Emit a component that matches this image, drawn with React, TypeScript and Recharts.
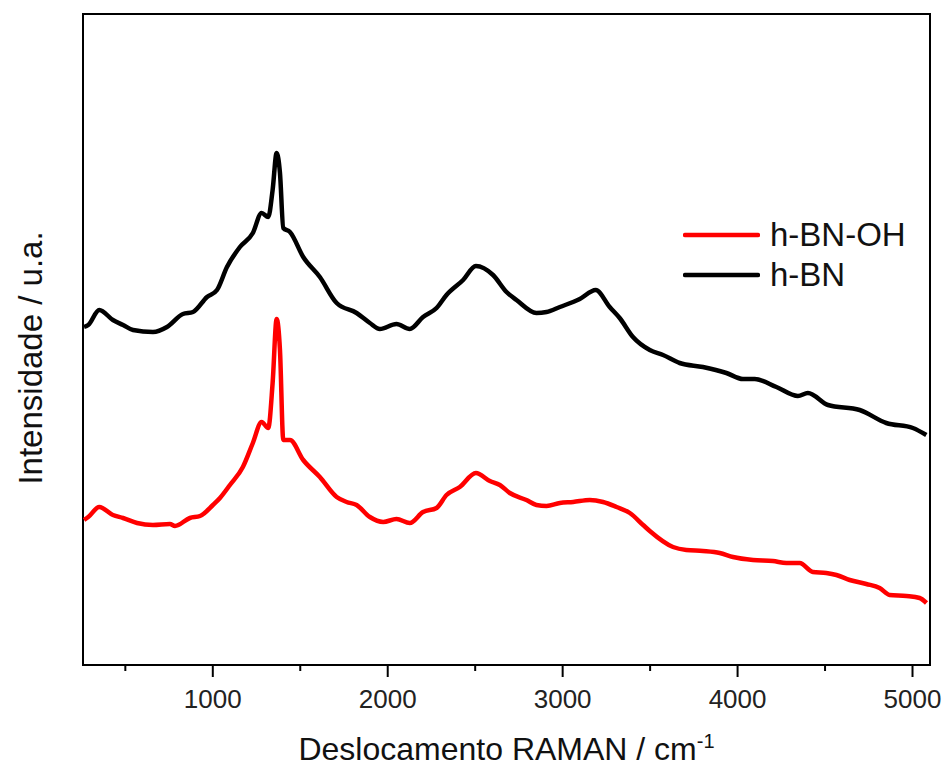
import React from "react";
import {
  LineChart,
  Line,
  XAxis,
  YAxis,
  ReferenceArea,
  Legend,
  Label,
} from "recharts";

// Raman shift (cm^-1) and intensity (a.u.)
const hbnShift = [264, 288, 351, 429, 487, 544, 658, 738, 829, 887, 967, 1024, 1081, 1155, 1229, 1279, 1317, 1342, 1365, 1384, 1403, 1441, 1517, 1612, 1708, 1822, 1898, 1955, 2050, 2126, 2202, 2279, 2336, 2431, 2504, 2602, 2679, 2736, 2850, 2908, 2984, 3098, 3189, 3269, 3326, 3402, 3498, 3574, 3669, 3802, 3936, 4031, 4098, 4222, 4345, 4402, 4517, 4698, 4850, 5002, 5079];
const hbnIntensity = [338, 340, 355, 345, 340, 335, 333, 338, 351, 353, 368, 375, 398, 418, 432, 452, 448, 475, 512, 492, 437, 433, 408, 388, 362, 352, 342, 336, 341, 336, 348, 357, 370, 385, 399, 390, 373, 365, 352, 353, 358, 366, 375, 358, 347, 328, 315, 310, 302, 298, 292, 286, 286, 278, 269, 272, 260, 255, 242, 237, 230];

const hbnOhShift = [264, 288, 351, 429, 487, 567, 658, 755, 784, 869, 927, 1001, 1041, 1098, 1172, 1229, 1279, 1317, 1342, 1365, 1384, 1403, 1441, 1517, 1612, 1708, 1765, 1822, 1898, 1974, 2050, 2126, 2202, 2279, 2336, 2412, 2504, 2584, 2641, 2698, 2793, 2850, 2908, 2984, 3060, 3155, 3231, 3308, 3384, 3460, 3498, 3631, 3707, 3802, 3898, 3974, 4088, 4202, 4279, 4355, 4431, 4507, 4565, 4641, 4736, 4812, 4869, 4965, 5041, 5080];
const hbnOhIntensity = [145, 148, 158, 150, 147, 142, 140, 141, 139, 147, 149, 160, 167, 180, 198, 222, 243, 237, 282, 346, 315, 225, 225, 205, 188, 168, 163, 160, 148, 143, 146, 142, 153, 157, 170, 178, 192, 184, 180, 172, 165, 160, 159, 162, 163, 165, 163, 158, 152, 140, 134, 118, 115, 114, 112, 108, 105, 104, 102, 102, 93, 92, 90, 85, 81, 77, 70, 69, 67, 62];

const xTicks = [500, 1000, 1500, 2000, 2500, 3000, 3500, 4000, 4500, 5000];
const xMajorTicks = [1000, 2000, 3000, 4000, 5000];
const xDomain = [258, 5100];
const yDomain = [0, 651];

const seriesNames = ["h-BN-OH", "h-BN"];
const seriesColors = ["#ff0000", "#000000"];

const hbnData = hbnShift.map((s, i) => ({ shift: s, value: hbnIntensity[i] }));
const hbnOhData = hbnOhShift.map((s, i) => ({ shift: s, value: hbnOhIntensity[i] }));

const FONT = "'Liberation Sans', Arial, sans-serif";

const XTick = (props: any) => {
  const { x, y, payload } = props;
  const v = payload.value;
  const major = xMajorTicks.includes(v);
  return (
    <g>
      <line x1={x} y1={y} x2={x} y2={y + (major ? 12 : 6)} stroke="#000" strokeWidth={2} />
      {major && (
        <text x={x} y={y + 43} textAnchor="middle" fontFamily={FONT} fontSize={26} fill="#222">
          {v}
        </text>
      )}
    </g>
  );
};

const XTitle = (props: any) => {
  const vb = props.viewBox || {};
  const cx = vb.x + vb.width / 2;
  const by = vb.y + 95;
  return (
    <text x={cx} y={by} textAnchor="middle" fontFamily={FONT} fontSize={32} fill="#111">
      <tspan>Deslocamento RAMAN / cm</tspan>
      <tspan fontSize={20} dy={-12}>-1</tspan>
    </text>
  );
};

const YTitle = () => (
  <text
    x={42}
    y={358}
    transform="rotate(-90 42 358)"
    textAnchor="middle"
    fontFamily={FONT}
    fontSize={33}
    fill="#111"
  >
    Intensidade / u.a.
  </text>
);

const LegendContent = () => (
  <div style={{ fontFamily: FONT, fontSize: 33, color: "#111" }}>
    {seriesNames.map((n, i) => (
      <div key={n} style={{ display: "flex", alignItems: "center", height: 40, lineHeight: "40px" }}>
        <svg width={77} height={8} style={{ display: "block" }}>
          <line x1={2} y1={4} x2={75} y2={4} stroke={seriesColors[i]} strokeWidth={4.5} strokeLinecap="round" />
        </svg>
        <span style={{ marginLeft: 10 }}>{n}</span>
      </div>
    ))}
  </div>
);

export default function App() {
  return (
    <div style={{ position: "absolute", left: 0, top: 0, background: "#fff" }}>
      <LineChart width={944} height={767} margin={{ top: 14, right: 14, bottom: 0, left: 0 }}>
        <XAxis
          dataKey="shift"
          type="number"
          domain={xDomain}
          ticks={xTicks}
          allowDataOverflow
          axisLine={false}
          tickLine={false}
          tickSize={0}
          tickMargin={0}
          height={102}
          tick={<XTick />}
          interval={0}
        >
          <Label content={<XTitle />} />
        </XAxis>
        <YAxis
          type="number"
          domain={yDomain}
          allowDataOverflow
          width={83}
          tick={false}
          axisLine={false}
          tickLine={false}
        >
          <Label content={<YTitle />} />
        </YAxis>
        <ReferenceArea
          x1={xDomain[0]}
          x2={xDomain[1]}
          y1={yDomain[0]}
          y2={yDomain[1]}
          fill="none"
          fillOpacity={0}
          stroke="#000"
          strokeWidth={2}
          strokeOpacity={1}
        />
        <Line
          data={hbnData}
          dataKey="value"
          name={seriesNames[1]}
          stroke={seriesColors[1]}
          strokeWidth={4.5}
          dot={false}
          type="monotone"
          isAnimationActive={false}
          strokeLinejoin="round"
        />
        <Line
          data={hbnOhData}
          dataKey="value"
          name={seriesNames[0]}
          stroke={seriesColors[0]}
          strokeWidth={4.5}
          dot={false}
          type="monotone"
          isAnimationActive={false}
          strokeLinejoin="round"
        />
        <Legend
          layout="vertical"
          align="center"
          verticalAlign="middle"
          content={<LegendContent />}
          wrapperStyle={{ left: 683, top: 215, width: "auto", height: "auto" }}
        />
      </LineChart>
    </div>
  );
}
